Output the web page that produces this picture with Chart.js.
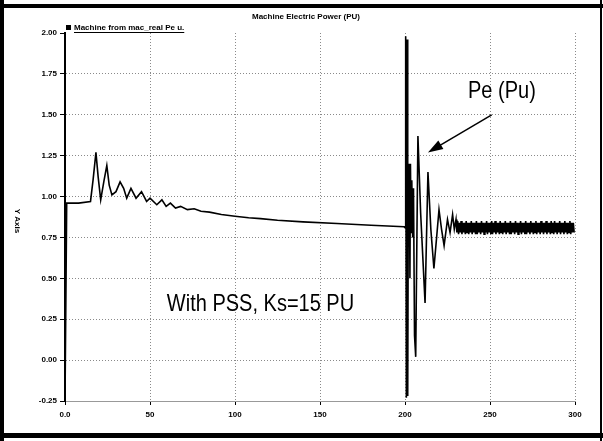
<!DOCTYPE html>
<html lang="en">
<head>
  <meta charset="UTF-8" />
  <title>Machine Electric Power (PU)</title>
  <script src="https://cdn.jsdelivr.net/npm/chart.js"></script>
  <style>
    html, body { margin: 0; padding: 0; background: #fff; }
    #wrap { width: 603px; height: 441px; }
  </style>
</head>
<body>
  <div id="wrap"><canvas id="powerChart" width="603" height="441"></canvas></div>

  <script>
    // axis ticks
    const xTickValues = [0, 50, 100, 150, 200, 250, 300];
    const xTickLabels = ["0.0", "50", "100", "150", "200", "250", "300"];
    const yTickValues = [-0.25, 0, 0.25, 0.5, 0.75, 1, 1.25, 1.5, 1.75, 2];
    const yTickLabels = ["-0.25", "0.00", "0.25", "0.50", "0.75", "1.00", "1.25", "1.50", "1.75", "2.00"];

    // before the fault (s, pu)
    const preTime = [0, 1, 8, 15, 16.5, 18.2, 19.5, 21, 23, 24.6,
      26, 27.6, 30, 32.4, 34.5, 36.3, 38.8, 41.8, 45, 48,
      50, 54, 57, 59.5, 62, 65, 68, 72, 76, 80,
      85, 92, 100, 108, 115, 125, 140, 160, 180, 199.5];
    const prePower = [-0.25, 0.96, 0.96, 0.97, 1.10, 1.27, 1.12, 0.98, 1.10, 1.19,
      1.07, 1.01, 1.03, 1.09, 1.05, 0.99, 1.05, 0.99, 1.03, 0.97,
      0.99, 0.95, 0.98, 0.94, 0.96, 0.93, 0.94, 0.92, 0.925, 0.91,
      0.905, 0.89, 0.88, 0.87, 0.865, 0.855, 0.845, 0.835, 0.825, 0.815];

    // fault and swings
    const faultTime = [200, 200.4, 200.8, 201.2, 201.6, 202, 202.3, 202.6, 202.9, 203.2,
      203.6, 204, 204.5, 205, 205.6, 206.3, 207.6, 209.2, 211.8, 213.5,
      215.2, 217, 218.6, 220, 221.5, 223, 225, 226.5, 228, 229];
    const faultPower = [0.81, 1.98, -0.23, 1.96, -0.22, 1.2, 0.78, 1.18, 0.5, 1.2,
      0.78, 1.1, 0.75, 1.05, 0.15, 0.02, 1.37, 0.9, 0.35, 1.15,
      0.8, 0.56, 0.75, 0.92, 0.8, 0.7, 0.86, 0.78, 0.89, 0.8];

    // after the fault, sampled every 0.5 s from 230 s
    const bandStart = 230;
    const bandStep = 0.5;
    const bandPower = [
      0.86, 0.78, 0.85, 0.77, 0.84, 0.78, 0.85, 0.77, 0.84, 0.78,
      0.84, 0.77, 0.85, 0.78, 0.84, 0.77, 0.84, 0.78, 0.85, 0.77,
      0.84, 0.78, 0.84, 0.77, 0.85, 0.77, 0.84, 0.78, 0.84, 0.77,
      0.85, 0.78, 0.84, 0.77, 0.84, 0.78, 0.85, 0.77, 0.84, 0.78,
      0.84, 0.77, 0.85, 0.77, 0.84, 0.78, 0.85, 0.77, 0.84, 0.78,
      0.84, 0.77, 0.85, 0.78, 0.84, 0.77, 0.84, 0.78, 0.85, 0.77,
      0.84, 0.78, 0.84, 0.77, 0.85, 0.77, 0.84, 0.78, 0.84, 0.77,
      0.85, 0.78, 0.84, 0.77, 0.84, 0.78, 0.85, 0.77, 0.84, 0.78,
      0.84, 0.77, 0.85, 0.77, 0.84, 0.78, 0.84, 0.77, 0.85, 0.78,
      0.84, 0.77, 0.84, 0.78, 0.85, 0.77, 0.84, 0.78, 0.84, 0.77,
      0.85, 0.78, 0.84, 0.77, 0.84, 0.78, 0.85, 0.77, 0.84, 0.78,
      0.84, 0.77, 0.85, 0.78, 0.84, 0.77, 0.85, 0.78, 0.84, 0.77,
      0.84, 0.78, 0.85, 0.77, 0.84, 0.78, 0.84, 0.77, 0.85, 0.78,
      0.84, 0.77, 0.84, 0.78, 0.85, 0.77, 0.84, 0.78, 0.84, 0.78
    ];

    const points = [];
    preTime.forEach((t, i) => points.push({ x: t, y: prePower[i] }));
    faultTime.forEach((t, i) => points.push({ x: t, y: faultPower[i] }));
    bandPower.forEach((v, i) => points.push({ x: bandStart + i * bandStep, y: v }));

    const tickFont = { family: "Liberation Sans", size: 8, weight: "bold" };

    // titles, legend, notes and the scan frame
    const decor = {
      id: "decor",
      afterDraw(chart) {
        const ctx = chart.ctx;
        const xs = chart.scales.x, ys = chart.scales.y;
        ctx.save();
        ctx.fillStyle = "#000";
        ctx.strokeStyle = "#000";

        ctx.font = "bold 8px 'Liberation Sans'";
        ctx.textAlign = "center";
        ctx.textBaseline = "middle";
        ctx.fillText("Machine Electric Power (PU)", 306, 17);

        // legend
        ctx.fillRect(66, 25, 5, 5);
        ctx.textAlign = "left";
        const leg = "Machine from mac_real Pe u.";
        ctx.fillText(leg, 74, 28);
        const w = ctx.measureText(leg).width;
        ctx.lineWidth = 1;
        ctx.beginPath();
        ctx.moveTo(74, 32.5);
        ctx.lineTo(74 + w, 32.5);
        ctx.stroke();

        // y title
        ctx.save();
        ctx.translate(17, 221);
        ctx.rotate(Math.PI / 2);
        ctx.textAlign = "center";
        ctx.fillText("Y Axis", 0, 0);
        ctx.restore();

        // notes
        const note = (txt, t, v) => {
          ctx.save();
          ctx.translate(xs.getPixelForValue(t), ys.getPixelForValue(v));
          ctx.scale(1, 1.2);
          ctx.font = "20px 'Liberation Sans'";
          ctx.textAlign = "center";
          ctx.textBaseline = "middle";
          ctx.fillText(txt, 0, 0);
          ctx.restore();
        };
        note("Pe (Pu)", 257, 1.64);
        note("With PSS, Ks=15 PU", 115, 0.34);

        // arrow
        const x1 = xs.getPixelForValue(251), y1 = ys.getPixelForValue(1.50);
        const x2 = xs.getPixelForValue(213.5), y2 = ys.getPixelForValue(1.27);
        const a = Math.atan2(y2 - y1, x2 - x1);
        ctx.lineWidth = 1.5;
        ctx.beginPath();
        ctx.moveTo(x1, y1);
        ctx.lineTo(x2 - 10 * Math.cos(a), y2 - 10 * Math.sin(a));
        ctx.stroke();
        ctx.beginPath();
        ctx.moveTo(x2, y2);
        ctx.lineTo(x2 - 15 * Math.cos(a) + 5 * Math.sin(a), y2 - 15 * Math.sin(a) - 5 * Math.cos(a));
        ctx.lineTo(x2 - 15 * Math.cos(a) - 5 * Math.sin(a), y2 - 15 * Math.sin(a) + 5 * Math.cos(a));
        ctx.closePath();
        ctx.fill();

        // frame of the scanned page
        ctx.fillRect(0, 4, 603, 4);
        ctx.fillRect(0, 0, 4, 441);
        ctx.fillRect(0, 433, 603, 5);
        ctx.fillRect(600, 0, 2, 441);
        ctx.restore();
      }
    };

    new Chart(document.getElementById("powerChart"), {
      type: "line",
      data: {
        datasets: [{
          label: "Machine from mac_real Pe u.",
          data: points,
          borderColor: "#000",
          borderWidth: 1.6,
          pointRadius: 0,
          tension: 0
        }]
      },
      options: {
        responsive: false,
        animation: false,
        layout: { padding: { top: 33, right: 28, left: 0, bottom: 0 } },
        plugins: { legend: { display: false }, tooltip: { enabled: false } },
        scales: {
          x: {
            type: "linear",
            min: 0,
            max: 300,
            afterBuildTicks: s => { s.ticks = xTickValues.map(v => ({ value: v })); },
            afterFit: s => { s.height = 40; },
            ticks: {
              color: "#000",
              font: tickFont,
              padding: 5,
              maxRotation: 0,
              callback: (v, i) => xTickLabels[i]
            },
            grid: { color: "#8a8a8a", tickColor: "#000", tickLength: 4 },
            border: { color: "#999", width: 1, dash: [1, 2] }
          },
          y: {
            min: -0.25,
            max: 2,
            afterBuildTicks: s => { s.ticks = yTickValues.map(v => ({ value: v })); },
            afterFit: s => { s.width = 65; },
            ticks: {
              color: "#000",
              font: tickFont,
              padding: 3,
              callback: (v, i) => yTickLabels[i]
            },
            grid: {
              color: c => (c.tick && c.tick.value === 2 ? "rgba(0,0,0,0)" : "#8a8a8a"),
              tickColor: "#000",
              tickLength: 5
            },
            border: { color: "#000", width: 2, dash: [1, 2] }
          }
        }
      },
      plugins: [decor]
    });
  </script>
</body>
</html>
